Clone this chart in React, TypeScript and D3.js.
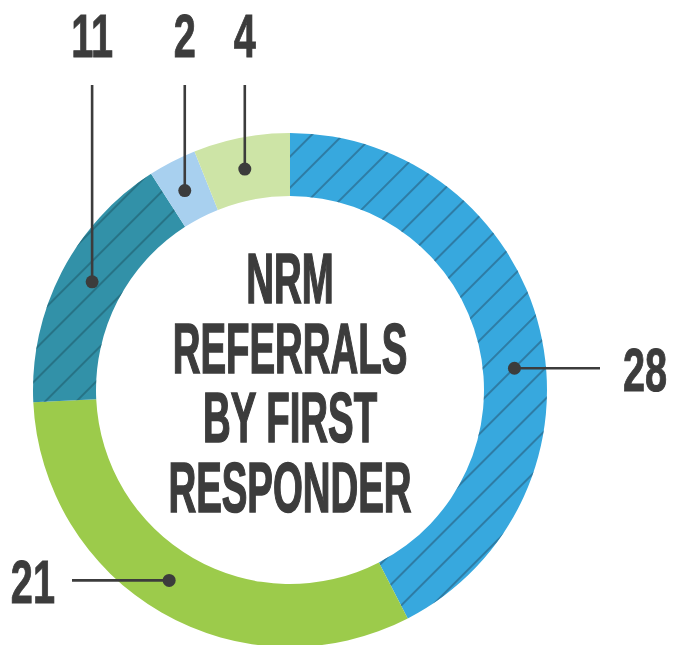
import React from 'react';
import * as d3 from 'd3';

// slices, clockwise from 12 o'clock
const values = [28, 21, 11, 2, 4];
const colors = ['#37a8de', '#9ccb4b', '#3291a8', '#a8d0ef', '#cde4a6'];
const hatched = [true, false, true, false, false];
// where along each slice the leader dot sits (0 = start, 1 = end)
const dotAlong = [0.553, 0.521, 0.523, 0.45, 0.47];
const leaderSide = ['right', 'left', 'top', 'top', 'top'];
const titleLines = ['NRM', 'REFERRALS', 'BY FIRST', 'RESPONDER'];

const width = 673;
const height = 645;
const cx = 290;
const cy = 390;
const innerR = 194;
const outerR = 257;
const ink = '#3c3c3c';
const font = '"Liberation Sans Narrow", "Arial Narrow", sans-serif';

const App = () => {
  const pie = d3.pie<number>().sort(null).value(d => d);
  const arcs = pie(values);
  const arc = d3.arc<d3.PieArcDatum<number>>().innerRadius(innerR).outerRadius(outerR);
  const midR = (innerR + outerR) / 2;

  const labels = arcs.map((a, i) => {
    const ang = a.startAngle + (a.endAngle - a.startAngle) * dotAlong[i];
    const x = Math.sin(ang) * midR;
    const y = -Math.cos(ang) * midR;
    return { x: cx + x, y: cy + y, side: leaderSide[i], text: String(values[i]) };
  });

  return (
    <svg width={width} height={height} style={{ position: 'absolute', left: 0, top: 0 }}>
      <defs>
        <pattern id="hatch-0" patternUnits="userSpaceOnUse" width={22} height={22} patternTransform="rotate(45)">
          <line x1={11} y1={0} x2={11} y2={22} stroke="#2a6d92" strokeWidth={1.5} />
        </pattern>
        <pattern id="hatch-2" patternUnits="userSpaceOnUse" width={22} height={22} patternTransform="rotate(45)">
          <line x1={11} y1={0} x2={11} y2={22} stroke="#22697a" strokeWidth={1.5} />
        </pattern>
      </defs>
      <rect width={width} height={height} fill="#ffffff" />
      <g transform={`translate(${cx},${cy})`}>
        {arcs.map((a, i) => (
          <g key={i}>
            <path d={arc(a) || ''} fill={colors[i]} />
            {hatched[i] && <path d={arc(a) || ''} fill={`url(#hatch-${i})`} />}
          </g>
        ))}
      </g>

      {titleLines.map((t, i) => (
        <text
          key={t}
          transform={`translate(${cx},${303 + i * 69.7}) scale(0.64,1.16)`}
          textAnchor="middle"
          fontFamily={font}
          fontWeight="bold"
          fontSize={60}
          fill={ink}
          stroke={ink}
          strokeWidth={1.4}
        >
          {t}
        </text>
      ))}

      {labels.map((l, i) => {
        let line, tx, ty, anchor;
        if (l.side === 'top') {
          line = [l.x, 85, l.x, l.y];
          tx = l.x; ty = 57; anchor = 'middle';
        } else if (l.side === 'right') {
          line = [l.x, l.y, 600, l.y];
          tx = 623; ty = l.y + 22.5; anchor = 'start';
        } else {
          line = [72, l.y, l.x, l.y];
          tx = 55; ty = l.y + 22.5; anchor = 'end';
        }
        return (
          <g key={i}>
            <line x1={line[0]} y1={line[1]} x2={line[2]} y2={line[3]} stroke={ink} strokeWidth={2.6} />
            <circle cx={l.x} cy={l.y} r={6.5} fill={ink} />
            <text
              transform={`translate(${tx},${ty}) scale(0.64,1)`}
              textAnchor={anchor}
              fontFamily={font}
              fontWeight="bold"
              fontSize={62}
              fill={ink}
              stroke={ink}
              strokeWidth={1}
            >
              {l.text}
            </text>
          </g>
        );
      })}
    </svg>
  );
};

export default App;
